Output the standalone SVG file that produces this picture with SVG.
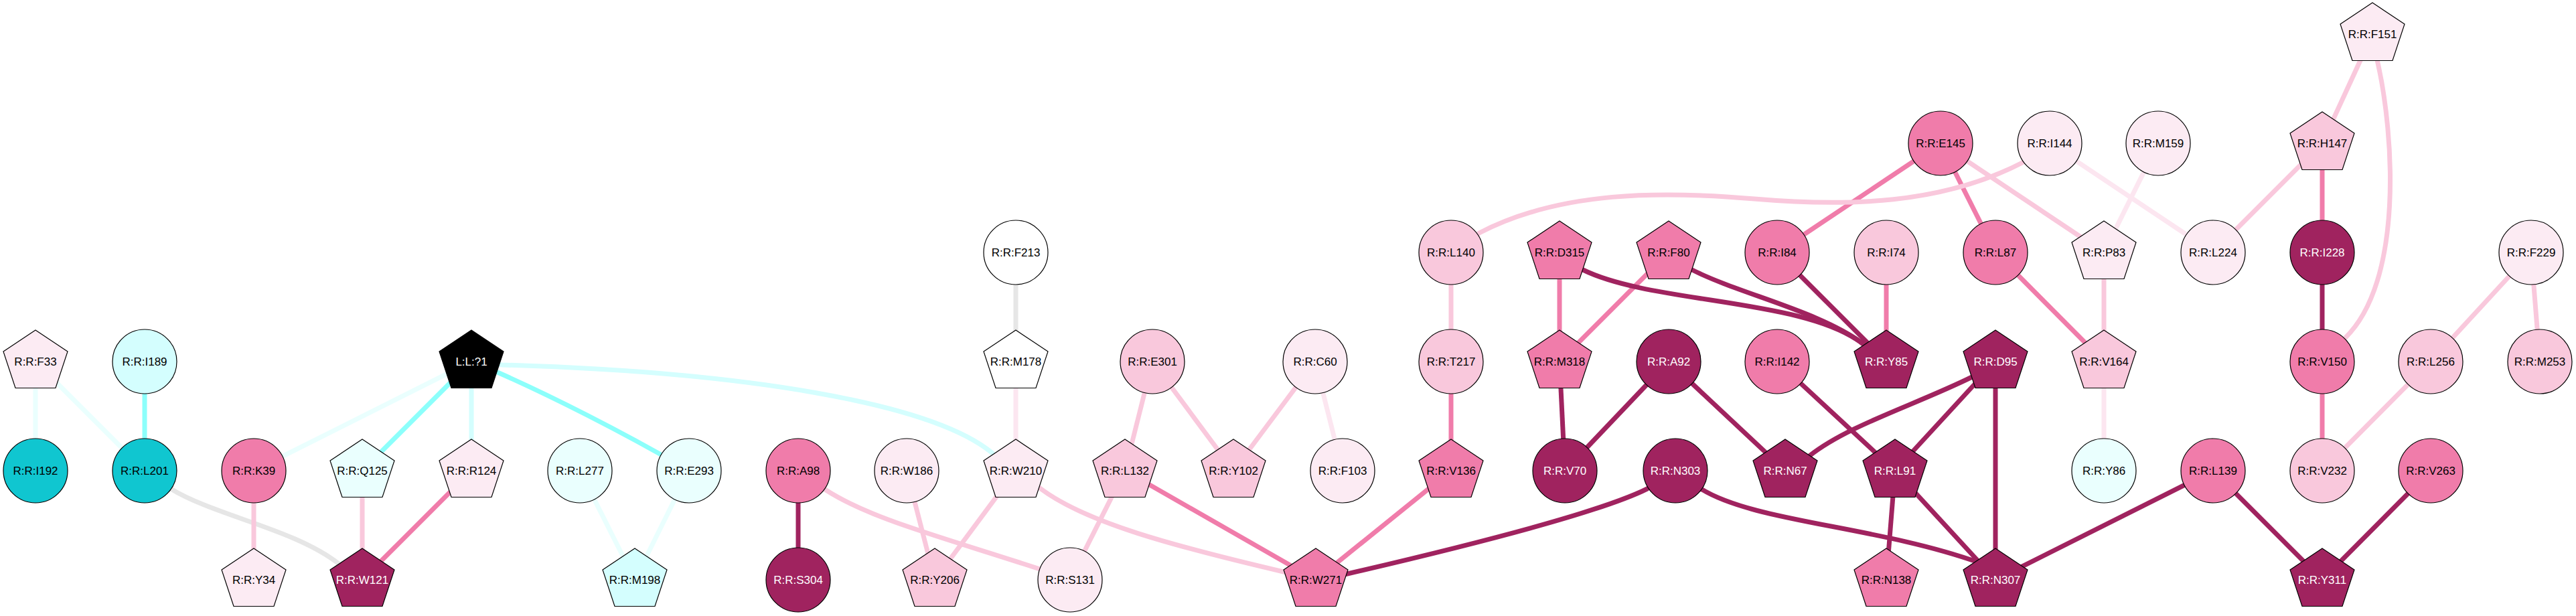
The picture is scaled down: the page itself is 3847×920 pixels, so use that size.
<svg xmlns="http://www.w3.org/2000/svg" width="3847" height="920" viewBox="0 0 3847 920">
<style>
.e{fill:none;stroke-width:7}
.dk{stroke:#A0235F}.mp{stroke:#F07CAA}.lp{stroke:#F9C8DC}.vp{stroke:#FCE6F0}
.cy{stroke:#8CFFFB}.lc{stroke:#D4FEFE}.vc{stroke:#EAFFFE}.gr{stroke:#E6E6E6}
.n circle,.n use{stroke:#000;stroke-width:1.2}
.n text{font-family:"Liberation Sans",Arial,Helvetica,sans-serif;font-size:17px;text-anchor:middle;fill:#000}
.n text.w{fill:#fff}
.fvp{fill:#FCEBF3}.flp{fill:#F9C8DC}.fmp{fill:#F07CAA}.fdk{fill:#A0235F}.fwh{fill:#FFFFFF}
.fdc{fill:#10C6D0}.flc{fill:#D4FEFE}.fvc{fill:#EAFFFE}.fbk{fill:#000000}
</style>
<defs>
<polygon id="pent" points="0,-47 48,-15 30,39.5 -30,39.5 -48,-15"/>
</defs>
<rect width="3847" height="920" fill="#fff"/>
<g id="edges">
<path class="e vc" d="M53,540 L53,703"/>
<path class="e vc" d="M53,540 L216,703"/>
<path class="e cy" d="M216,540 L216,703"/>
<path class="e gr" d="M216,703 L255,730 C320,770 440,790 506,842 L541,866"/>
<path class="e lp" d="M379,703 L379,866"/>
<path class="e lp" d="M541,703 L541,866"/>
<path class="e mp" d="M704,703 L541,866"/>
<path class="e vc" d="M704,540 L379,703"/>
<path class="e cy" d="M704,540 L541,703"/>
<path class="e lc" d="M704,540 L704,703"/>
<path class="e cy" d="M704,540 L743,556 C820,590 930,645 1029,703"/>
<path class="e lc" d="M704,540 L750,545 C1100,555 1400,600 1488,682 L1517,703"/>
<path class="e vc" d="M866,703 L948,866"/>
<path class="e vc" d="M1029,703 L948,866"/>
<path class="e dk" d="M1192,703 L1192,866"/>
<path class="e lp" d="M1192,703 L1232,731 C1300,775 1400,800 1553,850 L1598,866"/>
<path class="e lp" d="M1354,703 L1396,866"/>
<path class="e lp" d="M1517,703 L1396,866"/>
<path class="e lp" d="M1517,703 L1553,729 C1620,780 1750,815 1921,855 L1965,866"/>
<path class="e vp" d="M1517,540 L1517,703"/>
<path class="e gr" d="M1517,377 L1517,540"/>
<path class="e lp" d="M1721,540 L1680,703"/>
<path class="e lp" d="M1721,540 L1842,703"/>
<path class="e lp" d="M1964,540 L1842,703"/>
<path class="e vp" d="M1964,540 L2005,703"/>
<path class="e lp" d="M1680,703 L1598,866"/>
<path class="e mp" d="M1680,703 L1965,866"/>
<path class="e lp" d="M2167,377 L2167,540"/>
<path class="e mp" d="M2167,540 L2167,703"/>
<path class="e mp" d="M2167,703 L1965,866"/>
<path class="e dk" d="M2502,703 L2460,730 C2380,770 2150,825 2012,857 L1965,866"/>
<path class="e mp" d="M2329,377 L2329,540"/>
<path class="e mp" d="M2492,377 L2329,540"/>
<path class="e dk" d="M2329,540 L2337,703"/>
<path class="e dk" d="M2492,540 L2337,703"/>
<path class="e dk" d="M2492,540 L2666,703"/>
<path class="e dk" d="M2329,377 L2364,403 C2470,455 2700,445 2785,516 L2817,540"/>
<path class="e dk" d="M2492,377 L2527,403 C2600,440 2720,465 2786,516 L2817,540"/>
<path class="e dk" d="M2654,377 L2817,540"/>
<path class="e mp" d="M2817,377 L2817,540"/>
<path class="e mp" d="M2898,214 L2654,377"/>
<path class="e mp" d="M2898,214 L2980,377"/>
<path class="e lp" d="M2898,214 L3142,377"/>
<path class="e lp" d="M2167,377 L2209,348 C2330,285 2480,285 2620,297 S2900,305 3020,243 L3061,214"/>
<path class="e vp" d="M3061,214 L3305,377"/>
<path class="e vp" d="M3223,214 L3142,377"/>
<path class="e lp" d="M3142,377 L3142,540"/>
<path class="e mp" d="M2980,377 L3142,540"/>
<path class="e vp" d="M3142,540 L3142,703"/>
<path class="e dk" d="M2654,540 L2830,703"/>
<path class="e dk" d="M2980,540 L2945,563 C2860,605 2760,635 2702,681 L2666,703"/>
<path class="e dk" d="M2980,540 L2830,703"/>
<path class="e dk" d="M2980,540 L2980,866"/>
<path class="e dk" d="M2830,703 L2817,866"/>
<path class="e dk" d="M2830,703 L2980,866"/>
<path class="e dk" d="M2502,703 L2540,730 C2620,780 2800,785 2955,840 L2980,866"/>
<path class="e dk" d="M3305,703 L2980,866"/>
<path class="e dk" d="M3305,703 L3468,866"/>
<path class="e dk" d="M3630,703 L3468,866"/>
<path class="e lp" d="M3543,51 L3468,214"/>
<path class="e lp" d="M3543,51 L3551,94 C3575,200 3590,420 3502,505 L3468,540"/>
<path class="e lp" d="M3468,214 L3305,377"/>
<path class="e mp" d="M3468,214 L3468,377"/>
<path class="e dk" d="M3468,377 L3468,540"/>
<path class="e mp" d="M3468,540 L3468,703"/>
<path class="e lp" d="M3630,540 L3468,703"/>
<path class="e lp" d="M3780,377 L3630,540"/>
<path class="e lp" d="M3780,377 L3793,540"/>
</g>
<g id="n-F33" class="n" transform="translate(53,540)"><use href="#pent" class="fvp"/><text y="6">R:R:F33</text></g>
<g id="n-I189" class="n" transform="translate(216,540)"><circle r="48" class="flc"/><text y="6">R:R:I189</text></g>
<g id="n-I192" class="n" transform="translate(53,703)"><circle r="48" class="fdc"/><text y="6">R:R:I192</text></g>
<g id="n-L201" class="n" transform="translate(216,703)"><circle r="48" class="fdc"/><text y="6">R:R:L201</text></g>
<g id="n-L1" class="n" transform="translate(704,540)"><use href="#pent" class="fbk"/><text y="6" class="w">L:L:?1</text></g>
<g id="n-K39" class="n" transform="translate(379,703)"><circle r="48" class="fmp"/><text y="6">R:R:K39</text></g>
<g id="n-Q125" class="n" transform="translate(541,703)"><use href="#pent" class="fvc"/><text y="6">R:R:Q125</text></g>
<g id="n-R124" class="n" transform="translate(704,703)"><use href="#pent" class="fvp"/><text y="6">R:R:R124</text></g>
<g id="n-Y34" class="n" transform="translate(379,866)"><use href="#pent" class="fvp"/><text y="6">R:R:Y34</text></g>
<g id="n-W121" class="n" transform="translate(541,866)"><use href="#pent" class="fdk"/><text y="6" class="w">R:R:W121</text></g>
<g id="n-L277" class="n" transform="translate(866,703)"><circle r="48" class="fvc"/><text y="6">R:R:L277</text></g>
<g id="n-E293" class="n" transform="translate(1029,703)"><circle r="48" class="fvc"/><text y="6">R:R:E293</text></g>
<g id="n-M198" class="n" transform="translate(948,866)"><use href="#pent" class="flc"/><text y="6">R:R:M198</text></g>
<g id="n-A98" class="n" transform="translate(1192,703)"><circle r="48" class="fmp"/><text y="6">R:R:A98</text></g>
<g id="n-S304" class="n" transform="translate(1192,866)"><circle r="48" class="fdk"/><text y="6" class="w">R:R:S304</text></g>
<g id="n-F213" class="n" transform="translate(1517,377)"><circle r="48" class="fwh"/><text y="6">R:R:F213</text></g>
<g id="n-M178" class="n" transform="translate(1517,540)"><use href="#pent" class="fwh"/><text y="6">R:R:M178</text></g>
<g id="n-W186" class="n" transform="translate(1354,703)"><circle r="48" class="fvp"/><text y="6">R:R:W186</text></g>
<g id="n-W210" class="n" transform="translate(1517,703)"><use href="#pent" class="fvp"/><text y="6">R:R:W210</text></g>
<g id="n-Y206" class="n" transform="translate(1396,866)"><use href="#pent" class="flp"/><text y="6">R:R:Y206</text></g>
<g id="n-S131" class="n" transform="translate(1598,866)"><circle r="48" class="fvp"/><text y="6">R:R:S131</text></g>
<g id="n-E301" class="n" transform="translate(1721,540)"><circle r="48" class="flp"/><text y="6">R:R:E301</text></g>
<g id="n-L132" class="n" transform="translate(1680,703)"><use href="#pent" class="flp"/><text y="6">R:R:L132</text></g>
<g id="n-Y102" class="n" transform="translate(1842,703)"><use href="#pent" class="flp"/><text y="6">R:R:Y102</text></g>
<g id="n-C60" class="n" transform="translate(1964,540)"><circle r="48" class="fvp"/><text y="6">R:R:C60</text></g>
<g id="n-F103" class="n" transform="translate(2005,703)"><circle r="48" class="fvp"/><text y="6">R:R:F103</text></g>
<g id="n-W271" class="n" transform="translate(1965,866)"><use href="#pent" class="fmp"/><text y="6">R:R:W271</text></g>
<g id="n-L140" class="n" transform="translate(2167,377)"><circle r="48" class="flp"/><text y="6">R:R:L140</text></g>
<g id="n-T217" class="n" transform="translate(2167,540)"><circle r="48" class="flp"/><text y="6">R:R:T217</text></g>
<g id="n-V136" class="n" transform="translate(2167,703)"><use href="#pent" class="fmp"/><text y="6">R:R:V136</text></g>
<g id="n-D315" class="n" transform="translate(2329,377)"><use href="#pent" class="fmp"/><text y="6">R:R:D315</text></g>
<g id="n-M318" class="n" transform="translate(2329,540)"><use href="#pent" class="fmp"/><text y="6">R:R:M318</text></g>
<g id="n-V70" class="n" transform="translate(2337,703)"><circle r="48" class="fdk"/><text y="6" class="w">R:R:V70</text></g>
<g id="n-F80" class="n" transform="translate(2492,377)"><use href="#pent" class="fmp"/><text y="6">R:R:F80</text></g>
<g id="n-A92" class="n" transform="translate(2492,540)"><circle r="48" class="fdk"/><text y="6" class="w">R:R:A92</text></g>
<g id="n-N303" class="n" transform="translate(2502,703)"><circle r="48" class="fdk"/><text y="6" class="w">R:R:N303</text></g>
<g id="n-E145" class="n" transform="translate(2898,214)"><circle r="48" class="fmp"/><text y="6">R:R:E145</text></g>
<g id="n-I144" class="n" transform="translate(3061,214)"><circle r="48" class="fvp"/><text y="6">R:R:I144</text></g>
<g id="n-M159" class="n" transform="translate(3223,214)"><circle r="48" class="fvp"/><text y="6">R:R:M159</text></g>
<g id="n-I84" class="n" transform="translate(2654,377)"><circle r="48" class="fmp"/><text y="6">R:R:I84</text></g>
<g id="n-I74" class="n" transform="translate(2817,377)"><circle r="48" class="flp"/><text y="6">R:R:I74</text></g>
<g id="n-L87" class="n" transform="translate(2980,377)"><circle r="48" class="fmp"/><text y="6">R:R:L87</text></g>
<g id="n-P83" class="n" transform="translate(3142,377)"><use href="#pent" class="fvp"/><text y="6">R:R:P83</text></g>
<g id="n-I142" class="n" transform="translate(2654,540)"><circle r="48" class="fmp"/><text y="6">R:R:I142</text></g>
<g id="n-Y85" class="n" transform="translate(2817,540)"><use href="#pent" class="fdk"/><text y="6" class="w">R:R:Y85</text></g>
<g id="n-D95" class="n" transform="translate(2980,540)"><use href="#pent" class="fdk"/><text y="6" class="w">R:R:D95</text></g>
<g id="n-V164" class="n" transform="translate(3142,540)"><use href="#pent" class="flp"/><text y="6">R:R:V164</text></g>
<g id="n-N67" class="n" transform="translate(2666,703)"><use href="#pent" class="fdk"/><text y="6" class="w">R:R:N67</text></g>
<g id="n-L91" class="n" transform="translate(2830,703)"><use href="#pent" class="fdk"/><text y="6" class="w">R:R:L91</text></g>
<g id="n-Y86" class="n" transform="translate(3142,703)"><circle r="48" class="fvc"/><text y="6">R:R:Y86</text></g>
<g id="n-N138" class="n" transform="translate(2817,866)"><use href="#pent" class="fmp"/><text y="6">R:R:N138</text></g>
<g id="n-N307" class="n" transform="translate(2980,866)"><use href="#pent" class="fdk"/><text y="6" class="w">R:R:N307</text></g>
<g id="n-F151" class="n" transform="translate(3543,51)"><use href="#pent" class="fvp"/><text y="6">R:R:F151</text></g>
<g id="n-H147" class="n" transform="translate(3468,214)"><use href="#pent" class="flp"/><text y="6">R:R:H147</text></g>
<g id="n-L224" class="n" transform="translate(3305,377)"><circle r="48" class="fvp"/><text y="6">R:R:L224</text></g>
<g id="n-I228" class="n" transform="translate(3468,377)"><circle r="48" class="fdk"/><text y="6" class="w">R:R:I228</text></g>
<g id="n-F229" class="n" transform="translate(3780,377)"><circle r="48" class="fvp"/><text y="6">R:R:F229</text></g>
<g id="n-V150" class="n" transform="translate(3468,540)"><circle r="48" class="fmp"/><text y="6">R:R:V150</text></g>
<g id="n-L256" class="n" transform="translate(3630,540)"><circle r="48" class="flp"/><text y="6">R:R:L256</text></g>
<g id="n-M253" class="n" transform="translate(3793,540)"><circle r="48" class="flp"/><text y="6">R:R:M253</text></g>
<g id="n-L139" class="n" transform="translate(3305,703)"><circle r="48" class="fmp"/><text y="6">R:R:L139</text></g>
<g id="n-V232" class="n" transform="translate(3468,703)"><circle r="48" class="flp"/><text y="6">R:R:V232</text></g>
<g id="n-V263" class="n" transform="translate(3630,703)"><circle r="48" class="fmp"/><text y="6">R:R:V263</text></g>
<g id="n-Y311" class="n" transform="translate(3468,866)"><use href="#pent" class="fdk"/><text y="6" class="w">R:R:Y311</text></g>
</svg>
